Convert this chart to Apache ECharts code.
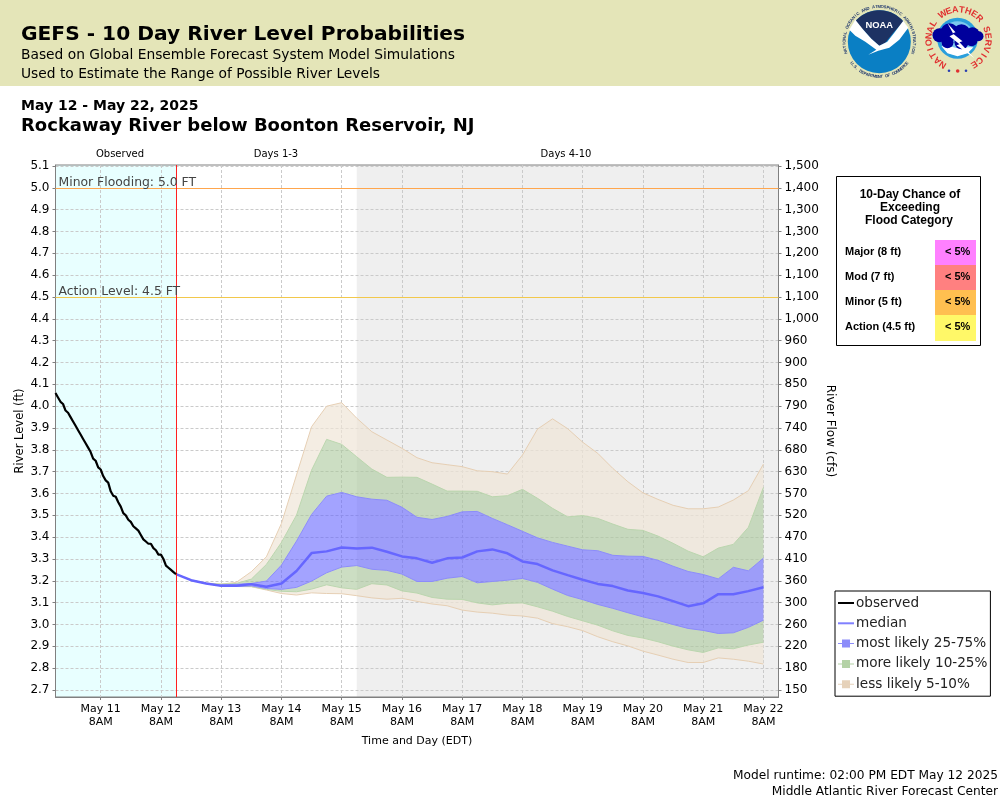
<!DOCTYPE html>
<html>
<head>
<meta charset="utf-8">
<title>GEFS - 10 Day River Level Probabilities</title>
<script src="https://cdn.jsdelivr.net/npm/echarts@6/dist/echarts.min.js"></script>
<style>
  html, body { margin: 0; padding: 0; background: #fff; }
  #chart { width: 1000px; height: 800px; }
</style>
</head>
<body>
<div id="chart"></div>
<script>
// river level ticks and the flow the rating gives at each one
var levelTicks = [2.7,2.8,2.9,3.0,3.1,3.2,3.3,3.4,3.5,3.6,3.7,3.8,3.9,4.0,4.1,4.2,4.3,4.4,4.5,4.6,4.7,4.8,4.9,5.0,5.1];
var flowLabels = ['150','180','220','260','300','360','410','470','520','570','630','680','740','790','850','900','960','1,000','1,100','1,100','1,200','1,300','1,300','1,400','1,500'];
var dayLabels = ['May 11','May 12','May 13','May 14','May 15','May 16','May 17','May 18','May 19','May 20','May 21','May 22'];

// observed stage, hourly from May 10 2PM
var observed = [4.06,4.04,4.02,4.01,3.98,3.97,3.95,3.93,3.91,3.89,3.87,3.85,3.83,3.81,3.79,3.76,3.75,3.72,3.71,3.68,3.66,3.65,3.61,3.59,
  3.585,3.56,3.54,3.51,3.50,3.48,3.47,3.45,3.44,3.43,3.41,3.39,3.38,3.37,3.37,3.35,3.34,3.32,3.32,3.30,3.27,3.26,3.25,3.24,3.23];

// forecast percentiles, every 6 hours from May 12 2PM
var median = [3.231,3.203,3.188,3.177,3.177,3.185,3.173,3.188,3.245,3.327,3.335,3.353,3.348,3.352,3.333,3.312,3.303,3.283,3.303,3.307,3.335,3.344,3.326,3.289,3.277,3.248,3.226,3.205,3.186,3.176,3.156,3.144,3.129,3.107,3.084,3.097,3.139,3.139,3.153,3.171];
var p95 = [3.231,3.203,3.19,3.185,3.193,3.242,3.31,3.463,3.685,3.906,4.0,4.016,3.945,3.883,3.845,3.807,3.764,3.741,3.732,3.723,3.704,3.70,3.689,3.776,3.895,3.942,3.897,3.835,3.784,3.715,3.654,3.603,3.573,3.546,3.53,3.53,3.538,3.57,3.613,3.735];
var p90 = [3.231,3.203,3.188,3.185,3.188,3.208,3.275,3.376,3.501,3.707,3.848,3.825,3.768,3.712,3.674,3.675,3.674,3.643,3.611,3.611,3.61,3.585,3.59,3.619,3.578,3.532,3.493,3.499,3.486,3.46,3.436,3.431,3.405,3.372,3.336,3.31,3.35,3.367,3.445,3.628];
var p75 = [3.231,3.203,3.187,3.182,3.184,3.188,3.199,3.272,3.382,3.504,3.588,3.605,3.585,3.574,3.569,3.537,3.491,3.481,3.495,3.516,3.518,3.486,3.457,3.427,3.397,3.376,3.359,3.342,3.338,3.317,3.313,3.312,3.294,3.267,3.243,3.229,3.209,3.262,3.246,3.304];
var p25 = [3.231,3.203,3.188,3.177,3.174,3.177,3.165,3.161,3.17,3.199,3.237,3.263,3.27,3.253,3.248,3.231,3.197,3.197,3.212,3.22,3.191,3.197,3.203,3.211,3.193,3.162,3.133,3.114,3.092,3.074,3.054,3.035,3.019,3.0,2.982,2.973,2.959,2.962,2.987,3.02];
var p10 = [3.231,3.203,3.188,3.177,3.174,3.174,3.161,3.152,3.15,3.162,3.182,3.168,3.161,3.187,3.181,3.154,3.144,3.124,3.116,3.115,3.099,3.09,3.097,3.099,3.081,3.061,3.037,3.017,2.997,2.971,2.95,2.938,2.921,2.901,2.884,2.872,2.893,2.889,2.906,2.919];
var p5 = [3.231,3.203,3.188,3.177,3.174,3.173,3.158,3.142,3.135,3.145,3.142,3.141,3.132,3.122,3.116,3.12,3.106,3.094,3.086,3.066,3.057,3.052,3.043,3.039,3.029,3.004,2.99,2.972,2.944,2.921,2.902,2.878,2.86,2.841,2.826,2.826,2.847,2.841,2.832,2.819];

var HOUR = 3600000;
var axisStart = Date.UTC(2025, 4, 10, 14);
var axisEnd = Date.UTC(2025, 4, 22, 14);
var nowTime = Date.UTC(2025, 4, 12, 14);
var longRange = Date.UTC(2025, 4, 15, 14);
var dayTicks = dayLabels.map(function (d, i) { return Date.UTC(2025, 4, 11 + i, 8); });
var obsTimes = observed.map(function (v, i) { return axisStart + i * HOUR; });
var fcstTimes = median.map(function (v, i) { return nowTime + i * 6 * HOUR; });

function pairs(times, vals) {
  return vals.map(function (v, i) { return [times[i], v]; });
}

// filled polygon between two percentile curves, drawn once for the whole run
function band(name, low, high, fill) {
  return {
    type: 'custom', name: name, z: 2, silent: true,
    itemStyle: { color: fill },
    encode: { x: 0, y: [1, 2] },
    data: fcstTimes.map(function (t, i) { return [t, low[i], high[i]]; }),
    renderItem: function (params, api) {
      if (params.dataIndex !== 0) return null;
      var pts = [];
      fcstTimes.forEach(function (t, i) { pts.push(api.coord([t, high[i]])); });
      for (var i = fcstTimes.length - 1; i >= 0; i--) pts.push(api.coord([fcstTimes[i], low[i]]));
      return { type: 'polygon', shape: { points: pts }, style: { fill: fill } };
    }
  };
}
function edge(vals, color) {
  return {
    type: 'line', data: pairs(fcstTimes, vals), symbol: 'none', z: 3, silent: true,
    lineStyle: { color: color, width: 1 }
  };
}

var TAN = 'rgba(240,230,215,0.7)', GREEN = 'rgba(170,200,155,0.6)', BLUE = 'rgba(102,102,255,0.6)';
var FONT = '"DejaVu Sans", sans-serif', SANS = '"Liberation Sans", sans-serif';

var series = [
  band('less likely 5-10%', p90, p95, TAN),
  band('less likely 5-10%', p5, p10, TAN),
  band('more likely 10-25%', p75, p90, GREEN),
  band('more likely 10-25%', p10, p25, GREEN),
  band('most likely 25-75%', p25, p75, BLUE),
  edge(p95, '#E6CFB4'), edge(p5, '#E6CFB4'),
  edge(p90, '#BBD6AE'), edge(p10, '#BBD6AE'),
  edge(p75, '#8C8CFA'), edge(p25, '#8C8CFA'),
  {
    type: 'line', name: 'median', data: pairs(fcstTimes, median), symbol: 'none', z: 4, silent: true,
    lineStyle: { color: '#6666FF', width: 2.5 }
  },
  {
    type: 'line', name: 'observed', data: pairs(obsTimes, observed), symbol: 'none', z: 5, silent: true,
    lineStyle: { color: '#000', width: 2.2 },
    markArea: {
      silent: true, z: -1,
      data: [
        [{ xAxis: axisStart, itemStyle: { color: '#E8FFFF' } }, { xAxis: nowTime }],
        [{ xAxis: longRange, itemStyle: { color: '#EFEFEF' } }, { xAxis: axisEnd }]
      ]
    },
    markLine: {
      silent: true, symbol: 'none', animation: false,
      data: [
        { yAxis: 5.0, lineStyle: { color: '#FFA64D', width: 1, type: 'solid' },
          label: { formatter: 'Minor Flooding: 5.0 FT' } },
        { yAxis: 4.5, lineStyle: { color: '#F2C84B', width: 1, type: 'solid' },
          label: { formatter: 'Action Level: 4.5 FT' } },
        { xAxis: nowTime, lineStyle: { color: '#FF2020', width: 1, type: 'solid' }, label: { show: false } }
      ],
      label: { position: 'insideStartTop', distance: [3, -1], color: '#444', fontSize: 12.4, fontFamily: FONT }
    }
  }
];

// banner, headings, flood table and the two agency seals
var graphics = [
  { type: 'rect', shape: { x: 0, y: 0, width: 1000, height: 86 }, style: { fill: '#E4E5B8' } }
];
function txt(x, y, s, font, color, align) {
  graphics.push({ type: 'text', x: x, y: y, style: {
    text: s, font: font, fill: color || '#000', align: align || 'left', verticalAlign: 'middle'
  } });
}
txt(21, 34.5, 'GEFS - 10 Day River Level Probabilities', 'bold 20.2px ' + FONT);
txt(21, 55, 'Based on Global Ensemble Forecast System Model Simulations', '13.8px ' + FONT);
txt(21, 74, 'Used to Estimate the Range of Possible River Levels', '13.8px ' + FONT);
txt(21, 106, 'May 12 - May 22, 2025', 'bold 14px ' + FONT);
txt(21, 126, 'Rockaway River below Boonton Reservoir, NJ', 'bold 18px ' + FONT);
txt(120, 154, 'Observed', '10px ' + FONT, '#000', 'center');
txt(276, 154, 'Days 1-3', '10px ' + FONT, '#000', 'center');
txt(566, 154, 'Days 4-10', '10px ' + FONT, '#000', 'center');
txt(998, 776, 'Model runtime: 02:00 PM EDT May 12 2025', '12.2px ' + FONT, '#000', 'right');
txt(998, 792, 'Middle Atlantic River Forecast Center', '12.2px ' + FONT, '#000', 'right');

graphics.push({ type: 'rect', shape: { x: 836.5, y: 176.5, width: 144, height: 169 },
  style: { fill: '#fff', stroke: '#000', lineWidth: 1 } });
txt(910, 195, '10-Day Chance of', 'bold 12px ' + SANS, '#000', 'center');
txt(910, 208, 'Exceeding', 'bold 12px ' + SANS, '#000', 'center');
txt(909, 221, 'Flood Category', 'bold 12px ' + SANS, '#000', 'center');
var floodRows = [['Major (8 ft)', '#FF80FF', 240], ['Mod (7 ft)', '#FF8080', 265], ['Minor (5 ft)', '#FFBF50', 290], ['Action (4.5 ft)', '#FFF868', 315]];
floodRows.forEach(function (r) {
  graphics.push({ type: 'rect', shape: { x: 935, y: r[2], width: 41, height: 25 + (r[2] === 315 ? 1 : 0) }, style: { fill: r[1] } });
  txt(845, r[2] + 11.5, r[0], 'bold 11px ' + SANS);
  txt(945, r[2] + 11.5, '< 5%', 'bold 11px ' + SANS);
});

function ringText(cx, cy, r, s, fromDeg, toDeg, font, color, bottom) {
  var n = s.length;
  for (var i = 0; i < n; i++) {
    var a = (fromDeg + (toDeg - fromDeg) * i / (n - 1)) * Math.PI / 180;
    graphics.push({
      type: 'text', x: cx + r * Math.sin(a), y: cy - r * Math.cos(a),
      rotation: bottom ? Math.PI - a : -a, silent: true,
      style: { text: s[i], font: font, fill: color, align: 'center', verticalAlign: 'middle' }
    });
  }
}
function shape(cx, cy, pts, fill) {
  graphics.push({ type: 'polygon', shape: { points: pts.map(function (p) { return [cx + p[0], cy + p[1]]; }) }, style: { fill: fill } });
}
function disc(cx, cy, r, fill) {
  graphics.push({ type: 'circle', shape: { cx: cx, cy: cy, r: r }, style: { fill: fill } });
}
function arcPts(r, from, to) {
  var out = [];
  for (var d = from; d <= to; d += 6) out.push([r * Math.sin(d * Math.PI / 180), -r * Math.cos(d * Math.PI / 180)]);
  return out;
}

// NOAA seal
var nx = 879.3, ny = 41.7;
disc(nx, ny, 31.5, '#0A7FC4');
shape(nx, ny, arcPts(31.5, -52, 52).concat([[14, -9], [6, 1], [0, 4], [-8, -3], [-16, -12]]), '#1D3263');
shape(nx, ny, [[-30, -12], [-24, -22], [-16, -12], [-8, -3], [0, 4], [8, 0], [15, -9], [24, -21], [29, -14], [20, -2], [10, 6], [-1, 9], [-11, 13], [-3, 8], [-14, 0], [-24, -6]], '#FFFFFF');
txt(nx, ny - 16, 'NOAA', 'bold 9.4px ' + SANS, '#fff', 'center');
ringText(nx, ny, 35, 'NATIONAL OCEANIC AND ATMOSPHERIC ADMINISTRATION', -108, 108, 'bold 4.2px ' + SANS, '#233A6E');
ringText(nx, ny, 35, 'U.S. DEPARTMENT OF COMMERCE', 232, 128, 'bold 4.2px ' + SANS, '#233A6E', true);

// NWS seal
var wx = 957.5, wy = 38.3;
disc(wx, wy, 20.5, '#2A9FDC');
disc(wx, wy, 17, '#7CC8EE');
shape(wx, wy, [[-16, 8], [-10, 15], [0, 18], [10, 15], [16, 9], [8, 9], [0, 10], [-8, 8]], '#FFFFFF');
[[-18, -3, 7], [-8, -6, 9], [4, -5, 9], [15, -4, 7], [21, -2, 5], [-10, 4, 6], [4, 4, 7], [14, 2, 6]].forEach(function (b) {
  disc(wx + b[0], wy + b[1], b[2], '#00009C');
});
shape(wx, wy, [[-10, -15], [-2, -6], [-5, -5], [5, 3], [2, 4], [17, 20], [-1, 7], [2, 6], [-8, -2], [-4, -4]], '#FFFFFF');
ringText(wx + 1, wy + 1, 29.5, 'NATIONAL WEATHER SERVICE', -148, 148, 'bold 9px ' + SANS, '#E03030');
disc(949, 70.7, 1.3, '#2A3FB0');
disc(957.7, 71, 1.8, '#E03030');
disc(966, 70.7, 1.3, '#2A3FB0');

var LINE_ICON = 'path://M0 0L0 0M0 3H16V5H0ZM16 8L16 8';
var BAND_ICON = 'path://M0 0L0 0M0 3.5H4V0H12V3.5H16V4.5H12V8H4V4.5H0ZM16 8L16 8';

var chart = echarts.init(document.getElementById('chart'), null, { renderer: 'canvas' });
chart.setOption({
  animation: false,
  textStyle: { fontFamily: FONT },
  grid: { left: 55.5, right: 221.5, top: 165, bottom: 103, show: true, borderColor: '#808080', borderWidth: 1, backgroundColor: 'transparent' },
  xAxis: {
    type: 'value', min: axisStart, max: axisEnd,
    name: 'Time and Day (EDT)', nameLocation: 'middle', nameGap: 39,
    nameTextStyle: { fontSize: 11, color: '#000', fontFamily: FONT },
    axisLine: { lineStyle: { color: '#808080' } },
    axisTick: { length: 3, lineStyle: { color: '#808080' }, customValues: dayTicks },
    axisLabel: {
      customValues: dayTicks, margin: 6, fontSize: 11, lineHeight: 12.5, color: '#000', fontFamily: FONT,
      hideOverlap: false,
      formatter: function (v) { return dayLabels[dayTicks.indexOf(v)] + '\n8AM'; }
    },
    splitLine: { show: true, lineStyle: { color: '#CACACA', type: [3, 2], width: 1 } }
  },
  yAxis: [
    {
      type: 'value', min: 2.668, max: 5.1046, position: 'left',
      name: 'River Level (ft)', nameLocation: 'middle', nameGap: 29, nameMoveOverlap: false,
      nameTextStyle: { fontSize: 11.5, color: '#000', fontFamily: FONT },
      axisLine: { show: true, lineStyle: { color: '#808080', width: 1 } },
      axisTick: { show: true, length: 3, lineStyle: { color: '#808080' }, customValues: levelTicks },
      axisLabel: {
        customValues: levelTicks, margin: 6, fontSize: 12, color: '#000', fontFamily: FONT, padding: [2, 0, 0, 0],
        formatter: function (v) { return v.toFixed(1); }
      },
      splitLine: { show: true, lineStyle: { color: '#CACACA', type: [3, 2], width: 1 } }
    },
    {
      type: 'value', min: 2.668, max: 5.1046, position: 'right',
      name: 'River Flow (cfs)', nameLocation: 'middle', nameGap: 46, nameMoveOverlap: false, nameRotate: -90,
      nameTextStyle: { fontSize: 12, color: '#000', fontFamily: FONT },
      axisLine: { show: true, lineStyle: { color: '#808080', width: 1 } },
      axisTick: { show: true, length: 3, lineStyle: { color: '#808080' }, customValues: levelTicks },
      axisLabel: {
        customValues: levelTicks, margin: 6, fontSize: 12, color: '#000', fontFamily: FONT, padding: [2, 0, 0, 0],
        formatter: function (v) { return flowLabels[levelTicks.indexOf(v)]; }
      },
      splitLine: { show: false }
    }
  ],
  legend: {
    orient: 'vertical', left: 835, top: 591, width: 156,
    padding: [5, 3, 5, 3], itemGap: 6.3, itemWidth: 16, itemHeight: 8,
    borderColor: '#000', borderWidth: 1, backgroundColor: '#fff', selectedMode: false,
    textStyle: { fontSize: 13.6, color: '#222', fontFamily: FONT, padding: [0, 0, 0, -3] },
    data: [
      { name: 'observed', icon: LINE_ICON, itemStyle: { color: '#000' } },
      { name: 'median', icon: LINE_ICON, itemStyle: { color: '#8080FF' } },
      { name: 'most likely 25-75%', icon: BAND_ICON, itemStyle: { color: '#8C8CFA' } },
      { name: 'more likely 10-25%', icon: BAND_ICON, itemStyle: { color: '#B4D2A6' } },
      { name: 'less likely 5-10%', icon: BAND_ICON, itemStyle: { color: '#E6D2BA' } }
    ]
  },
  series: series,
  graphic: { elements: graphics }
});
</script>
</body>
</html>
